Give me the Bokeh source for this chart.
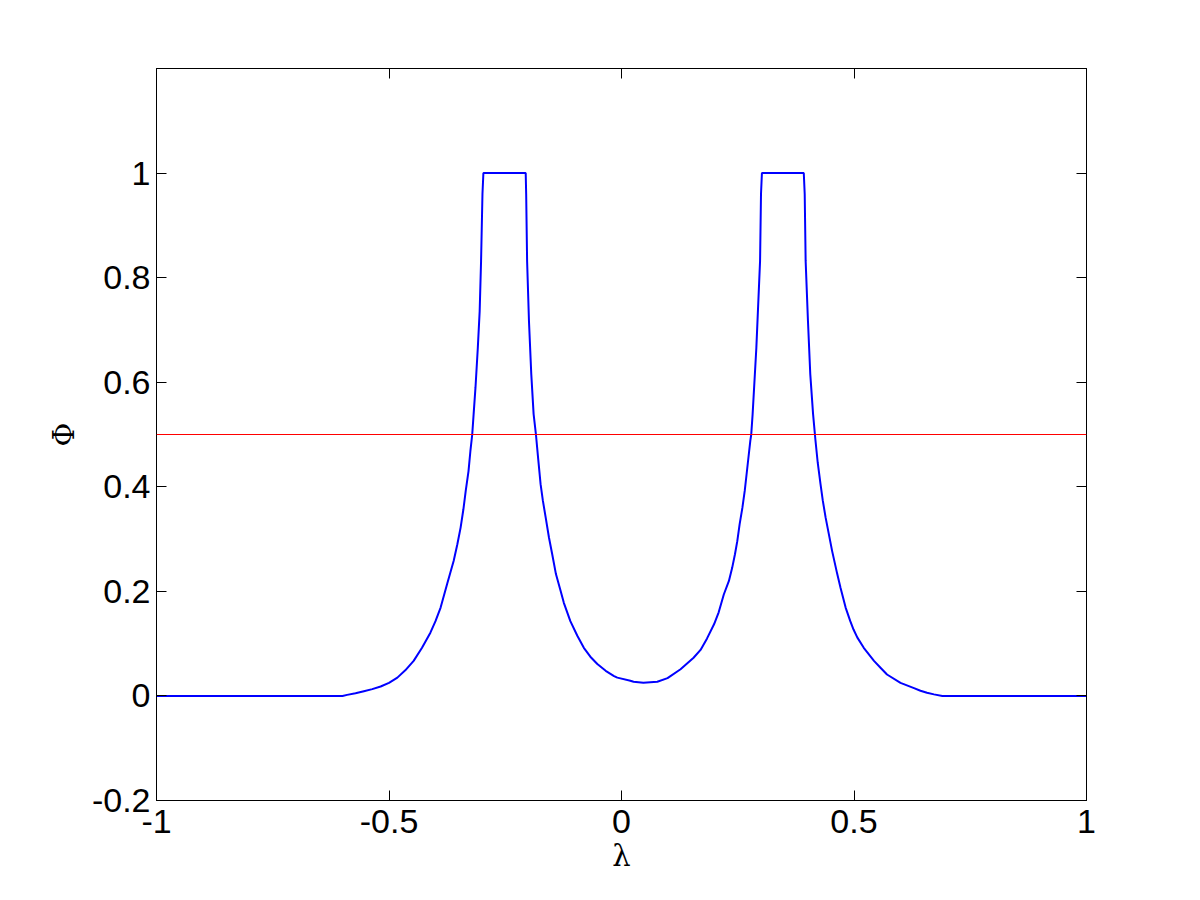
from bokeh.plotting import figure
from bokeh.models import Range1d, LinearAxis, FixedTicker, CustomJSTickFormatter, Span
from bokeh.embed import file_html
from bokeh.resources import INLINE

# Data
lam = [-1.0, -0.60, -0.59, -0.572, -0.554, -0.536, -0.518, -0.50, -0.482, -0.465,
       -0.447, -0.429, -0.411, -0.40, -0.389, -0.375, -0.368, -0.361, -0.353, -0.346,
       -0.340, -0.335, -0.329, -0.325, -0.321, -0.318, -0.314, -0.309, -0.305, -0.302,
       -0.299, -0.297, -0.206, -0.205, -0.203, -0.199, -0.194, -0.189, -0.184, -0.179,
       -0.174, -0.169, -0.163, -0.156, -0.149, -0.141, -0.131, -0.124, -0.110, -0.095,
       -0.081, -0.067, -0.052, -0.034, -0.016, -0.009, 0.019, 0.026, 0.047, 0.077,
       0.099, 0.127, 0.155, 0.170, 0.184, 0.199, 0.209, 0.220, 0.231, 0.238,
       0.244, 0.249, 0.254, 0.260, 0.265, 0.269, 0.273, 0.277, 0.279, 0.282,
       0.290, 0.298, 0.300, 0.302, 0.392, 0.394, 0.396, 0.401, 0.406, 0.412,
       0.417, 0.422, 0.428, 0.433, 0.439, 0.446, 0.453, 0.464, 0.471, 0.482,
       0.492, 0.499, 0.507, 0.521, 0.543, 0.557, 0.571, 0.600, 0.629, 0.643,
       0.657, 0.672, 0.69, 1.0]
phi = [0.0, 0.0, 0.002, 0.005, 0.009, 0.013, 0.018, 0.025, 0.035, 0.049,
       0.067, 0.092, 0.121, 0.143, 0.169, 0.214, 0.236, 0.258, 0.290, 0.322,
       0.357, 0.392, 0.430, 0.468, 0.500, 0.539, 0.590, 0.666, 0.736, 0.832,
       0.960, 1.0, 1.0, 0.960, 0.832, 0.717, 0.615, 0.539, 0.500, 0.452,
       0.405, 0.373, 0.341, 0.303, 0.271, 0.233, 0.201, 0.178, 0.143, 0.115,
       0.092, 0.075, 0.061, 0.048, 0.038, 0.035, 0.029, 0.027, 0.025, 0.027,
       0.034, 0.051, 0.073, 0.088, 0.110, 0.137, 0.160, 0.194, 0.220, 0.245,
       0.271, 0.296, 0.328, 0.360, 0.392, 0.424, 0.456, 0.488, 0.500, 0.539,
       0.666, 0.832, 0.960, 1.0, 1.0, 0.960, 0.832, 0.717, 0.615, 0.539,
       0.490, 0.446, 0.405, 0.373, 0.341, 0.309, 0.277, 0.233, 0.207, 0.169,
       0.143, 0.127, 0.112, 0.092, 0.067, 0.054, 0.041, 0.025, 0.015, 0.010,
       0.006, 0.003, 0.0, 0.0]
threshold = 0.5

x_ticks = [-1, -0.5, 0, 0.5, 1]
x_tick_labels = ["-1", "-0.5", "0", "0.5", "1"]
y_ticks = [-0.2, 0, 0.2, 0.4, 0.6, 0.8, 1]
y_tick_labels = ["-0.2", "0", "0.2", "0.4", "0.6", "0.8", "1"]

W, H = 1184, 884
p = figure(width=W, height=H, output_backend="svg", toolbar_location=None,
           x_range=Range1d(-1, 1), y_range=Range1d(-0.2, 1.2),
           min_border_left=156, min_border_right=W - 1086,
           min_border_top=68, min_border_bottom=H - 800)

p.background_fill_color = "white"
p.border_fill_color = "white"
p.grid.visible = False
p.outline_line_color = "black"
p.outline_line_width = 1

FONT = "Liberation Sans"
LABEL_FONT = "DejaVu Serif"

def style_axis(ax, ticks, labels=None):
    ax.ticker = FixedTicker(ticks=ticks)
    ax.axis_line_color = "black"
    ax.major_tick_line_color = "black"
    ax.major_tick_in = 10
    ax.major_tick_out = 0
    ax.minor_tick_line_color = None
    ax.major_label_text_font = FONT
    ax.major_label_text_font_size = "34px"
    ax.major_label_text_color = "black"
    if labels is not None:
        ax.major_label_overrides = {t: l for t, l in zip(ticks, labels)}
    else:
        ax.formatter = CustomJSTickFormatter(code="return ''")

style_axis(p.xaxis[0], x_ticks, x_tick_labels)
style_axis(p.yaxis[0], y_ticks, y_tick_labels)
p.xaxis[0].major_label_standoff = 9
p.yaxis[0].major_label_standoff = 6

p.xaxis[0].axis_label = "λ"
p.yaxis[0].axis_label = "Φ"
for ax in (p.xaxis[0], p.yaxis[0]):
    ax.axis_label_text_font = LABEL_FONT
    ax.axis_label_text_font_size = "29px"
    ax.axis_label_text_font_style = "normal"
    ax.axis_label_text_color = "black"
p.xaxis[0].axis_label_standoff = 3
p.yaxis[0].axis_label_standoff = 8

top_ax = LinearAxis()
style_axis(top_ax, x_ticks)
p.add_layout(top_ax, "above")
right_ax = LinearAxis()
style_axis(right_ax, y_ticks)
p.add_layout(right_ax, "right")

p.line(lam, phi, line_color="#0000ff", line_width=2)
p.add_layout(Span(location=threshold, dimension="width", line_color="#ff0000", line_width=1))

open("out.html", "w").write(file_html(p, INLINE))
